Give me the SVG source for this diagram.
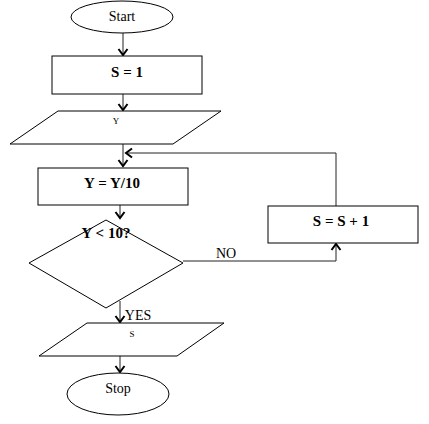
<svg xmlns="http://www.w3.org/2000/svg" width="429" height="424" viewBox="0 0 429 424">
<style>
.shape{fill:#fff;stroke:#000;stroke-width:1}
.line{fill:none;stroke:#222;stroke-width:1}
text{font-family:'Liberation Serif','DejaVu Serif',serif;fill:#000;text-anchor:middle}
.b{font-weight:bold;font-size:15px}
.n{font-size:14px}
.s{font-size:9px}
</style>
<defs>
<marker id="arr" markerUnits="userSpaceOnUse" markerWidth="14" markerHeight="14" refX="0" refY="0" viewBox="-8 -7 10 14" orient="auto" overflow="visible">
<path d="M-6,-4.5 L0,0 L-6,4.5" fill="none" stroke="#000" stroke-width="2"/>
</marker>
</defs>
<rect width="429" height="424" fill="#fff"/>
<g id="connectors">
<line class="line" x1="123" y1="33" x2="123" y2="55" marker-end="url(#arr)"/>
<line class="line" x1="123" y1="94" x2="123" y2="110" marker-end="url(#arr)"/>
<line class="line" x1="123" y1="144" x2="123" y2="166" marker-end="url(#arr)"/>
<polyline class="line" points="336,206 336,153 126,153" marker-end="url(#arr)"/>
<line class="line" x1="120" y1="205" x2="120" y2="218" marker-end="url(#arr)"/>
<polyline class="line" points="183,261 336,261 336,244" marker-end="url(#arr)"/>
<line class="line" x1="120" y1="301" x2="120" y2="322" marker-end="url(#arr)"/>
<line class="line" x1="120" y1="351" x2="120" y2="372" marker-end="url(#arr)"/>
<text class="n" x="226" y="258">NO</text>
<text class="n" x="138" y="320">YES</text>
</g>
<g id="start">
<ellipse class="shape" cx="122" cy="17" rx="51" ry="16"/>
<text class="n" x="122" y="21">Start</text>
</g>
<g id="s1">
<rect class="shape" x="52" y="56" width="150" height="38"/>
<text class="b" x="127" y="77">S = 1</text>
</g>
<g id="inputY">
<polygon class="shape" points="58,111 221,111 173,144 10,144"/>
<text class="s" x="116" y="124">Y</text>
</g>
<g id="ydiv">
<rect class="shape" x="38" y="168" width="150" height="37"/>
<text class="b" x="112" y="188">Y = Y/10</text>
</g>
<g id="decision">
<polygon class="shape" points="106,220 183,263 106,308 29,263"/>
<text class="b" x="106" y="238">Y &lt; 10?</text>
</g>
<g id="sinc">
<rect class="shape" x="268" y="206" width="150" height="37"/>
<text class="b" x="341" y="226">S = S + 1</text>
</g>
<g id="outputS">
<polygon class="shape" points="87,323 224,323 177,356 39,356"/>
<text class="s" x="132" y="337">S</text>
</g>
<g id="stop">
<ellipse class="shape" cx="118" cy="394" rx="51" ry="21"/>
<text class="n" x="118" y="393">Stop</text>
</g>
</svg>
